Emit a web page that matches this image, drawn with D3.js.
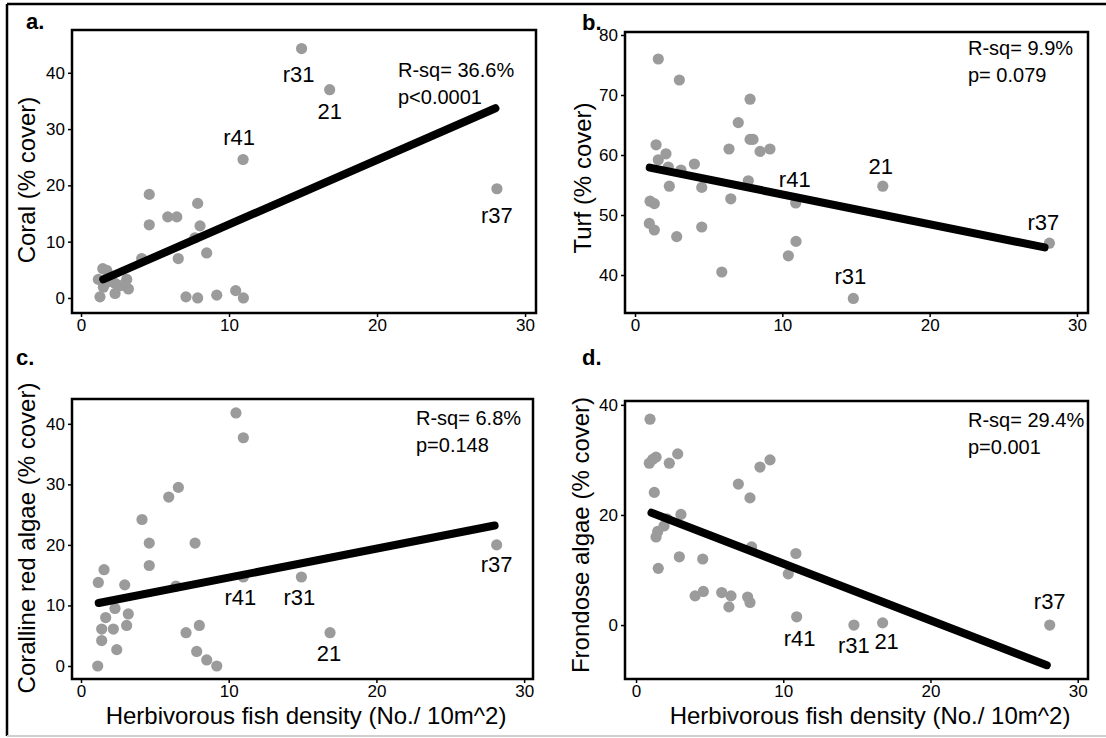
<!DOCTYPE html>
<html>
<head>
<meta charset="utf-8">
<script src="https://cdn.jsdelivr.net/npm/d3@7"></script>
<style>
  html, body { margin: 0; padding: 0; background: #fff; }
  svg { display: block; font-family: "Liberation Sans", Arial, sans-serif; }
</style>
</head>
<body>
<svg id="chart" width="1106" height="738"></svg>
<script>
// ---------------- DATA ----------------
const xTicks = [0, 10, 20, 30];
const xTitle = "Herbivorous fish density (No./ 10m^2)";

// a. Coral
const coralX = [14.9, 16.8, 10.95, 28.1, 4.61, 4.61, 7.88, 5.86, 6.47, 8.04, 7.70, 8.49, 6.57, 4.10, 1.47, 1.74, 1.17, 3.09, 1.51, 2.30, 3.20, 2.30, 1.28, 7.09, 7.88, 9.17, 10.45, 10.97, 1.9, 2.7];
const coralY = [44.3, 37.0, 24.6, 19.4, 18.4, 13.0, 16.8, 14.4, 14.4, 12.8, 10.7, 8.0, 7.0, 7.0, 5.2, 4.9, 3.3, 3.3, 1.9, 2.6, 1.6, 0.8, 0.2, 0.2, 0.0, 0.5, 1.3, 0.0, 2.9, 2.2];
const coralSite = ["r31", "21", "r41", "r37"];
const coralFitX = [1.5, 28.0];
const coralFitY = [3.3, 33.7];
const coralYTicks = [0, 10, 20, 30, 40];
const coralStats = ["R-sq= 36.6%", "p<0.0001"];

// b. Turf
const turfX = [14.82, 16.82, 10.91, 28.13, 7.81, 7.01, 7.81, 8.01, 6.38, 8.49, 9.16, 1.43, 2.10, 1.58, 2.26, 3.12, 4.03, 2.33, 4.53, 7.69, 6.50, 1.02, 1.31, 0.97, 1.31, 2.83, 4.53, 10.93, 10.41, 5.89, 1.58, 3.01];
const turfY = [36.1, 54.8, 52.0, 45.3, 69.3, 65.4, 62.6, 62.6, 61.0, 60.6, 61.0, 61.7, 60.2, 59.2, 58.0, 57.5, 58.5, 54.8, 54.6, 55.7, 52.7, 52.3, 51.9, 48.6, 47.5, 46.4, 48.0, 45.6, 43.2, 40.5, 76.0, 72.5];
const turfSite = ["r31", "21", "r41", "r37"];
const turfFitX = [1.0, 27.8];
const turfFitY = [57.9, 44.6];
const turfYTicks = [40, 50, 60, 70, 80];
const turfStats = ["R-sq= 9.9%", "p= 0.079"];

// c. Coralline red algae
const corallineX = [14.92, 16.86, 10.99, 28.14, 10.49, 10.99, 6.59, 5.94, 4.13, 4.62, 7.72, 4.62, 1.56, 1.17, 2.96, 6.43, 2.30, 3.20, 1.67, 1.40, 2.19, 3.09, 7.11, 8.01, 1.40, 2.42, 1.13, 7.83, 8.51, 9.19];
const corallineY = [14.7, 5.5, 14.7, 20.0, 41.8, 37.7, 29.5, 27.9, 24.2, 20.3, 20.3, 16.6, 15.9, 13.8, 13.4, 13.2, 9.5, 8.6, 8.0, 6.1, 6.1, 6.7, 5.5, 6.7, 4.2, 2.7, 0.0, 2.4, 1.0, 0.0];
const corallineSite = ["r31", "21", "r41", "r37"];
const corallineFitX = [1.2, 28.0];
const corallineFitY = [10.4, 23.2];
const corallineYTicks = [0, 10, 20, 30, 40];
const corallineStats = ["R-sq= 6.8%", "p=0.148"];

// d. Frondose algae
const frondoseX = [14.8, 16.75, 10.91, 28.1, 0.95, 0.90, 1.13, 1.36, 2.26, 2.83, 1.24, 6.95, 7.74, 8.42, 9.10, 3.05, 2.10, 1.90, 1.47, 1.36, 1.51, 2.94, 4.53, 7.85, 10.86, 10.34, 4.01, 4.57, 5.82, 6.45, 6.31, 7.58, 7.74];
const frondoseY = [0.0, 0.4, 1.5, 0.0, 37.4, 29.4, 30.1, 30.5, 29.4, 31.1, 24.1, 25.6, 23.1, 28.7, 30.0, 20.1, 19.3, 18.0, 17.0, 16.0, 10.3, 12.4, 12.0, 14.2, 13.0, 9.3, 5.3, 6.1, 5.9, 5.3, 3.3, 5.1, 4.1];
const frondoseSite = ["r31", "21", "r41", "r37"];
const frondoseFitX = [1.05, 27.9];
const frondoseFitY = [20.4, -7.3];
const frondoseYTicks = [0, 20, 40];
const frondoseStats = ["R-sq= 29.4%", "p=0.001"];

// ---------------- LAYOUT ----------------
const panels = [
  { letter: "a.", yTitle: "Coral (% cover)", x: coralX, y: coralY, site: coralSite,
    fitX: coralFitX, fitY: coralFitY, yTicks: coralYTicks, stats: coralStats,
    box: [72, 30, 536, 313], xDom: [-0.61, 30.74], yDom: [-2.67, 47.6],
    letterPos: [26, 21], yTitleX: 26, yTitleY: 180, statPos: [398, 70], showXTitle: false,
    labOff: { r31: [-3, 26], "21": [0, 22], r41: [-4, -22], r37: [0, 27] } },
  { letter: "b.", yTitle: "Turf (% cover)", x: turfX, y: turfY, site: turfSite,
    fitX: turfFitX, fitY: turfFitY, yTicks: turfYTicks, stats: turfStats,
    box: [625, 32, 1088, 313], xDom: [-0.68, 30.75], yDom: [33.67, 80.5],
    letterPos: [582, 22], yTitleX: 582, yTitleY: 178, statPos: [968, 48], showXTitle: false,
    labOff: { r31: [-3, -22], "21": [-2, -20], r41: [-1, -24], r37: [-6, -21] } },
  { letter: "c.", yTitle: "Coralline red algae (% cover)", x: corallineX, y: corallineY, site: corallineSite,
    fitX: corallineFitX, fitY: corallineFitY, yTicks: corallineYTicks, stats: corallineStats,
    box: [72, 399, 533, 679], xDom: [-0.61, 30.6], yDom: [-2.15, 44.1],
    letterPos: [16, 357], yTitleX: 26, yTitleY: 538, statPos: [416, 418], showXTitle: true, xTitleX: 306,
    labOff: { r31: [-2, 21], "21": [-1, 21], r41: [-3, 21], r37: [0, 20] } },
  { letter: "d.", yTitle: "Frondose algae (% cover)", x: frondoseX, y: frondoseY, site: frondoseSite,
    fitX: frondoseFitX, fitY: frondoseFitY, yTicks: frondoseYTicks, stats: frondoseStats,
    box: [625, 401, 1088, 679], xDom: [-0.75, 30.7], yDom: [-9.8, 40.7],
    letterPos: [582, 357], yTitleX: 580, yTitleY: 535, statPos: [968, 420], showXTitle: true, xTitleX: 870,
    labOff: { r31: [0, 20], "21": [4, 19], r41: [3, 22], r37: [0, -24] } }
];

// ---------------- DRAW ----------------
const svg = d3.select("#chart");

// outer frame
svg.append("line").attr("x1", 7).attr("y1", 4).attr("x2", 1106).attr("y2", 4)
  .attr("stroke", "#000").attr("stroke-width", 2.5);
svg.append("line").attr("x1", 7).attr("y1", 4).attr("x2", 7).attr("y2", 736)
  .attr("stroke", "#000").attr("stroke-width", 2.5);
svg.append("line").attr("x1", 7).attr("y1", 736).attr("x2", 1106).attr("y2", 736)
  .attr("stroke", "#cfcfcf").attr("stroke-width", 2);

panels.forEach(p => {
  const [x0, y0, x1, y1] = p.box;
  const xs = d3.scaleLinear().domain(p.xDom).range([x0, x1]);
  const ys = d3.scaleLinear().domain(p.yDom).range([y1, y0]);
  const g = svg.append("g");

  // axes
  const xAxis = g.append("g").attr("transform", `translate(0,${y1})`)
    .call(d3.axisBottom(xs).tickValues(xTicks).tickSize(4).tickPadding(2).tickFormat(d3.format("d")));
  const yAxis = g.append("g").attr("transform", `translate(${x0},0)`)
    .call(d3.axisLeft(ys).tickValues(p.yTicks).tickSize(4).tickPadding(3).tickFormat(d3.format("d")));
  [xAxis, yAxis].forEach(a => {
    a.select(".domain").remove();
    a.selectAll(".tick line").attr("stroke", "#000").attr("stroke-width", 1.5);
    a.selectAll(".tick text").attr("fill", "#000").style("font-size", "17px")
      .style("font-family", "'Liberation Sans', Arial, sans-serif");
  });

  // box
  g.append("rect").attr("x", x0).attr("y", y0).attr("width", x1 - x0).attr("height", y1 - y0)
    .attr("fill", "none").attr("stroke", "#000").attr("stroke-width", 2.5);

  // points
  g.selectAll("circle.pt").data(p.x.map((v, i) => [v, p.y[i]])).enter()
    .append("circle").attr("class", "pt")
    .attr("cx", d => xs(d[0])).attr("cy", d => ys(d[1])).attr("r", 5.6)
    .attr("fill", "#9b9b9b");

  // regression line
  g.append("line")
    .attr("x1", xs(p.fitX[0])).attr("y1", ys(p.fitY[0]))
    .attr("x2", xs(p.fitX[1])).attr("y2", ys(p.fitY[1]))
    .attr("stroke", "#000").attr("stroke-width", 8).attr("stroke-linecap", "round");

  // site labels
  p.site.forEach((s, i) => {
    const off = p.labOff[s];
    g.append("text").attr("x", xs(p.x[i]) + off[0]).attr("y", ys(p.y[i]) + off[1])
      .attr("text-anchor", "middle").attr("dominant-baseline", "central")
      .style("font-size", "22px").attr("fill", "#000").text(s);
  });

  // stats
  p.stats.forEach((s, i) => {
    g.append("text").attr("x", p.statPos[0]).attr("y", p.statPos[1] + i * 27)
      .attr("dominant-baseline", "central").style("font-size", "20px").attr("fill", "#000").text(s);
  });

  // panel letter
  g.append("text").attr("x", p.letterPos[0]).attr("y", p.letterPos[1])
    .attr("dominant-baseline", "central").style("font-size", "22px").style("font-weight", "bold")
    .attr("fill", "#000").text(p.letter);

  // y title
  g.append("text").attr("transform", `translate(${p.yTitleX},${p.yTitleY}) rotate(-90)`)
    .attr("text-anchor", "middle").attr("dominant-baseline", "central")
    .style("font-size", "24px").attr("fill", "#000").text(p.yTitle);

  // x title
  if (p.showXTitle) {
    g.append("text").attr("x", p.xTitleX).attr("y", 715)
      .attr("text-anchor", "middle").attr("dominant-baseline", "central")
      .style("font-size", "24px").attr("fill", "#000").text(xTitle);
  }
});
</script>
</body>
</html>
